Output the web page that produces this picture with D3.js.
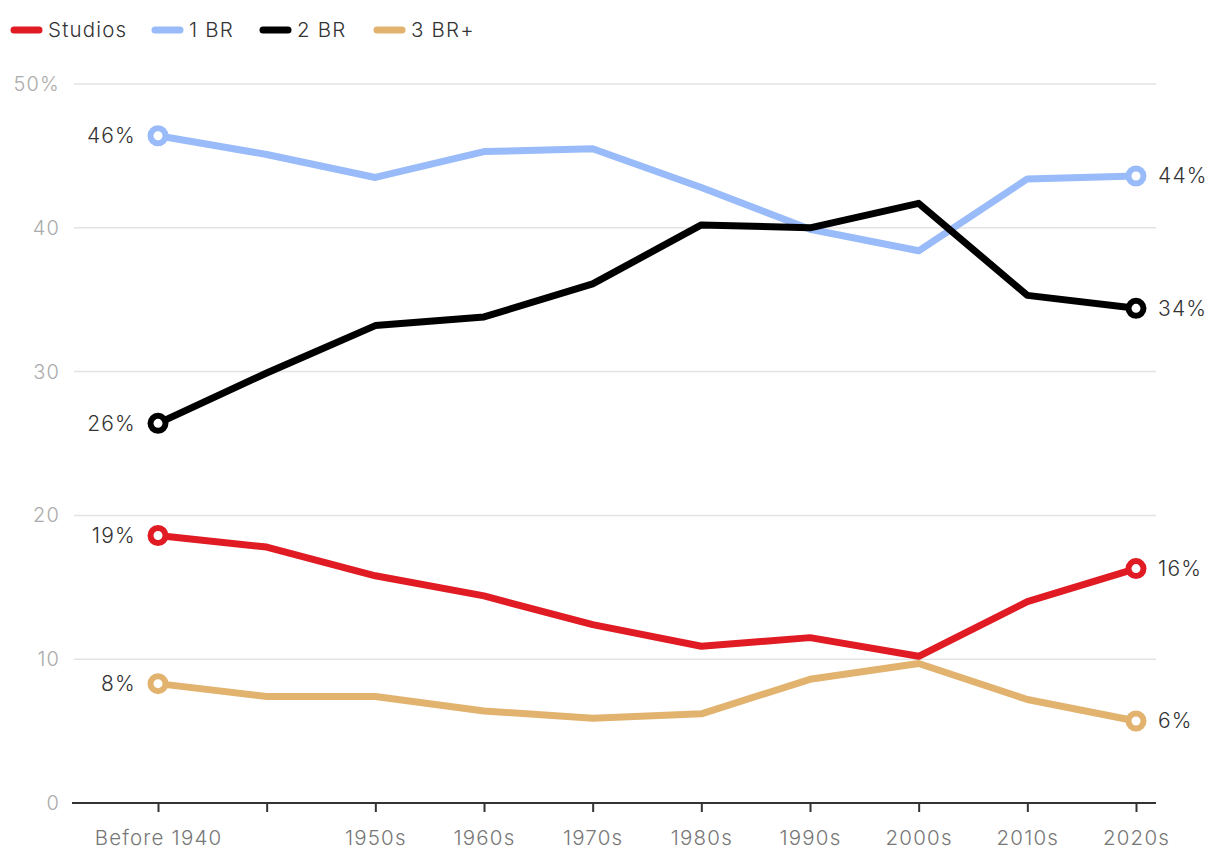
<!DOCTYPE html>
<html>
<head>
<meta charset="utf-8">
<script src="https://cdn.jsdelivr.net/npm/d3@7"></script>
<style>
  body { margin: 0; background: #fff; }
  svg { font-family: Inter, "Liberation Sans", sans-serif; font-weight: 300; letter-spacing: 1.2px; }
</style>
</head>
<body>
<div id="chart"></div>
<script>
const decades = ["Before 1940", "1940s", "1950s", "1960s", "1970s", "1980s", "1990s", "2000s", "2010s", "2020s"];
const tickLabels = ["Before 1940", "", "1950s", "1960s", "1970s", "1980s", "1990s", "2000s", "2010s", "2020s"];
const studios = [18.6, 17.8, 15.8, 14.4, 12.4, 10.9, 11.5, 10.2, 14.0, 16.3];
const oneBR = [46.4, 45.1, 43.5, 45.3, 45.5, 42.8, 39.9, 38.4, 43.4, 43.6];
const twoBR = [26.4, 29.9, 33.2, 33.8, 36.1, 40.2, 40.0, 41.7, 35.3, 34.4];
const threeBR = [8.3, 7.4, 7.4, 6.4, 5.9, 6.2, 8.6, 9.7, 7.2, 5.7];
const yTicks = [0, 10, 20, 30, 40, 50];

const series = [
  { name: "Studios", values: studios, color: "#e01b24" },
  { name: "1 BR", values: oneBR, color: "#99bbf9" },
  { name: "2 BR", values: twoBR, color: "#000000" },
  { name: "3 BR+", values: threeBR, color: "#e2b36f" }
];

const width = 1220, height = 864;
const svg = d3.select("#chart").append("svg")
  .attr("width", width)
  .attr("height", height);

const x = d3.scalePoint().domain(decades).range([158, 1136]);
const y = d3.scaleLinear().domain([0, 50]).range([803, 84]);

// gridlines
svg.append("g")
  .selectAll("line")
  .data(yTicks.filter(d => d > 0))
  .join("line")
  .attr("x1", 74).attr("x2", 1156)
  .attr("y1", d => y(d)).attr("y2", d => y(d))
  .attr("stroke", "#e3e3e3")
  .attr("stroke-width", 1.5);

// y labels
svg.append("g")
  .selectAll("text")
  .data(yTicks)
  .join("text")
  .attr("x", 60)
  .attr("y", d => y(d))
  .attr("dy", "0.35em")
  .attr("text-anchor", "end")
  .attr("fill", "#ababab")
  .style("font-size", "20px")
  .text(d => d === 50 ? "50%" : d);

// x axis
svg.append("line")
  .attr("x1", 72).attr("x2", 1156)
  .attr("y1", y(0)).attr("y2", y(0))
  .attr("stroke", "#333").attr("stroke-width", 2);

const xAxis = svg.append("g")
  .attr("transform", `translate(0,${y(0)})`)
  .call(d3.axisBottom(x).tickSize(9).tickPadding(18).tickFormat((d, i) => tickLabels[i]));
xAxis.select(".domain").remove();
xAxis.selectAll(".tick line").attr("stroke", "#333").attr("stroke-width", 2);
xAxis.selectAll(".tick text")
  .attr("fill", "#777")
  .style("font-size", "20.5px")
  .style("font-family", "Inter, 'Liberation Sans', sans-serif");

// lines
const line = d3.line()
  .x((d, i) => x(decades[i]))
  .y(d => y(d));

svg.append("g")
  .selectAll("path")
  .data(series)
  .join("path")
  .attr("d", d => line(d.values))
  .attr("fill", "none")
  .attr("stroke", d => d.color)
  .attr("stroke-width", 7)
  .attr("stroke-linejoin", "round");

// endpoints
const ends = [];
series.forEach(s => {
  ends.push({ s, i: 0, side: "left" });
  ends.push({ s, i: s.values.length - 1, side: "right" });
});

svg.append("g")
  .selectAll("circle")
  .data(ends)
  .join("circle")
  .attr("cx", d => x(decades[d.i]))
  .attr("cy", d => y(d.s.values[d.i]))
  .attr("r", 7.5)
  .attr("fill", "#fff")
  .attr("stroke", d => d.s.color)
  .attr("stroke-width", 6);

svg.append("g")
  .selectAll("text")
  .data(ends)
  .join("text")
  .attr("x", d => d.side === "left" ? x(decades[d.i]) - 22 : x(decades[d.i]) + 22)
  .attr("y", d => y(d.s.values[d.i]))
  .attr("dy", "0.35em")
  .attr("text-anchor", d => d.side === "left" ? "end" : "start")
  .attr("fill", "#333")
  .style("font-size", "21px")
  .text(d => Math.round(d.s.values[d.i]) + "%");

// legend
const legendX = [11, 152, 260, 374];
const legend = svg.append("g")
  .selectAll("g")
  .data(series)
  .join("g")
  .attr("transform", (d, i) => `translate(${legendX[i]},30)`);

legend.append("line")
  .attr("x1", 3).attr("x2", 28)
  .attr("stroke", d => d.color)
  .attr("stroke-width", 7)
  .attr("stroke-linecap", "round");

legend.append("text")
  .attr("x", 37)
  .attr("dy", "0.35em")
  .attr("fill", "#333")
  .style("font-size", "20.5px")
  .text(d => d.name);
</script>
</body>
</html>
